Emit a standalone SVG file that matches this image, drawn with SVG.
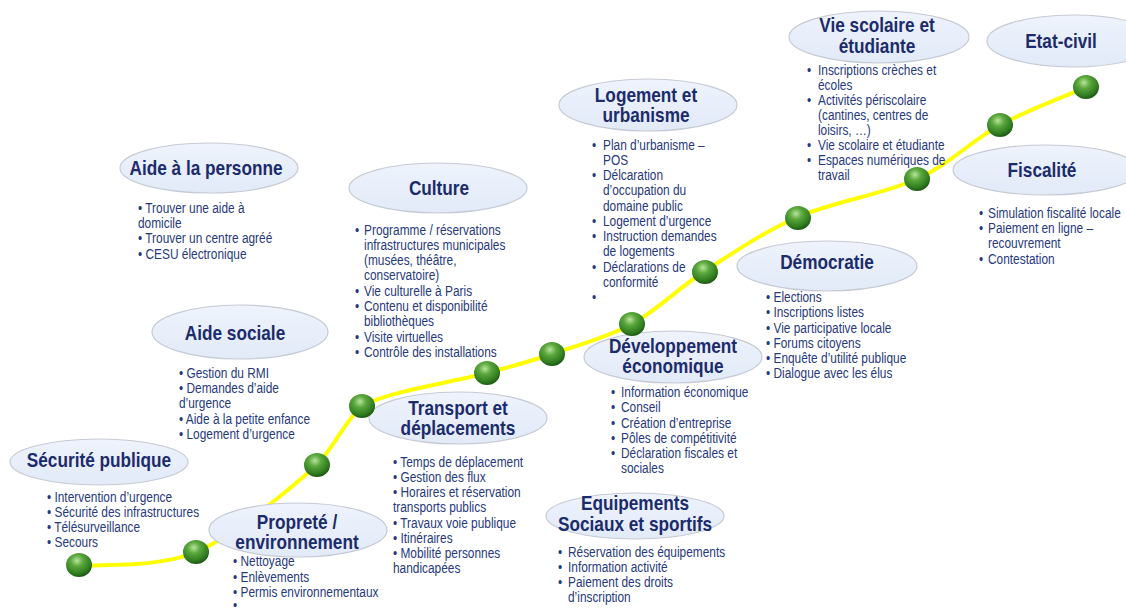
<svg xmlns="http://www.w3.org/2000/svg" width="1126" height="608" viewBox="0 0 1126 608">
  <defs>
    <linearGradient id="bubbleFill" x1="0" y1="0" x2="0" y2="1">
      <stop offset="0" stop-color="#eef3fc"/>
      <stop offset="1" stop-color="#e2eaf8"/>
    </linearGradient>
    <radialGradient id="ballFill" cx="0.42" cy="0.32" r="0.68">
      <stop offset="0" stop-color="#b9e49d"/>
      <stop offset="0.35" stop-color="#5ba83d"/>
      <stop offset="0.8" stop-color="#2f7b1f"/>
      <stop offset="1" stop-color="#1d5913"/>
    </radialGradient>
    <style>
      .bubble { fill: url(#bubbleFill); stroke: #c6cad4; stroke-width: 1.2; }
      .title { font-family: "Liberation Sans Narrow", "Liberation Sans", Arial, sans-serif; font-weight: bold; font-size: 21px; fill: #1b2b6b; text-anchor: middle; }
      .items { font-family: "Liberation Sans Narrow", "Liberation Sans", Arial, sans-serif; font-size: 14.5px; fill: #27397c; }
      .track { fill: none; stroke: #ffff00; stroke-width: 4; stroke-linecap: round; }
      .ball { fill: url(#ballFill); }
    </style>
  </defs>

  <rect width="1126" height="608" fill="#ffffff"/>

  <!-- yellow track linking the themes -->
  <g id="connectors">
    <path class="track" d="M79,566 C98.5,563.7 156.3,568.8 196,552 C235.7,535.2 289.3,489.3 317,465 C335,445 346,420 362,406 C390.3,390.7 455.3,381.7 487,373 C518.7,364.3 527.8,362.2 552,354 C576.2,345.8 606.5,337.8 632,324 C657.5,310.2 677.3,288.8 705,271 C732.7,253.2 762.7,232.3 798,217 C833.3,201.7 883.3,194.3 917,179 C950.7,163.7 971.7,140.3 1000,125 C1028.3,109.7 1072.5,93.3 1087,87"/>
  </g>

  <!-- text is drawn narrow: each block is squeezed horizontally around its anchor -->
  <g id="securite-publique">
    <ellipse class="bubble" cx="99" cy="462" rx="89" ry="23"/>
    <text class="title" transform="translate(99,467) scale(0.82,1)">Sécurité publique</text>
    <text class="items" transform="translate(47,0) scale(0.82,1)">
      <tspan x="0" y="502">• Intervention d’urgence</tspan>
      <tspan x="0" y="517">• Sécurité des infrastructures</tspan>
      <tspan x="0" y="532">• Télésurveillance</tspan>
      <tspan x="0" y="547">• Secours</tspan>
    </text>
  </g>

  <g id="proprete-environnement">
    <ellipse class="bubble" cx="298" cy="530" rx="89" ry="27"/>
    <text class="title" transform="translate(297,0) scale(0.82,1)"><tspan x="0" y="529">Propreté /</tspan><tspan x="0" y="549">environnement</tspan></text>
    <text class="items" transform="translate(233,0) scale(0.82,1)">
      <tspan x="0" y="566">• Nettoyage</tspan>
      <tspan x="0" y="582">• Enlèvements</tspan>
      <tspan x="0" y="597">• Permis environnementaux</tspan>
      <tspan x="0" y="610">•</tspan>
    </text>
  </g>

  <g id="aide-personne">
    <ellipse class="bubble" cx="209" cy="168" rx="89" ry="25"/>
    <text class="title" transform="translate(206,175) scale(0.82,1)">Aide à la personne</text>
    <text class="items" transform="translate(138,0) scale(0.82,1)">
      <tspan x="0" y="213">• Trouver une aide à</tspan>
      <tspan x="0" y="228">domicile</tspan>
      <tspan x="0" y="243">• Trouver un centre agréé</tspan>
      <tspan x="0" y="259">• CESU électronique</tspan>
    </text>
  </g>

  <g id="aide-sociale">
    <ellipse class="bubble" cx="240" cy="332" rx="88" ry="27"/>
    <text class="title" transform="translate(235,340) scale(0.82,1)">Aide sociale</text>
    <text class="items" transform="translate(179,0) scale(0.82,1)">
      <tspan x="0" y="378">• Gestion du RMI</tspan>
      <tspan x="0" y="393">• Demandes d’aide</tspan>
      <tspan x="0" y="408">d’urgence</tspan>
      <tspan x="0" y="424">• Aide à la petite enfance</tspan>
      <tspan x="0" y="439">• Logement d’urgence</tspan>
    </text>
  </g>

  <g id="culture">
    <ellipse class="bubble" cx="438" cy="188" rx="89" ry="25"/>
    <text class="title" transform="translate(439,195) scale(0.82,1)">Culture</text>
    <text class="items" transform="translate(355,0) scale(0.82,1)">
      <tspan x="0" y="235">•</tspan><tspan x="11" y="235">Programme / réservations</tspan>
      <tspan x="11" y="250">infrastructures municipales</tspan>
      <tspan x="11" y="265">(musées, théâtre,</tspan>
      <tspan x="11" y="280">conservatoire)</tspan>
      <tspan x="0" y="296">•</tspan><tspan x="11" y="296">Vie culturelle à Paris</tspan>
      <tspan x="0" y="311">•</tspan><tspan x="11" y="311">Contenu et disponibilité</tspan>
      <tspan x="11" y="326">bibliothèques</tspan>
      <tspan x="0" y="342">•</tspan><tspan x="11" y="342">Visite virtuelles</tspan>
      <tspan x="0" y="357">•</tspan><tspan x="11" y="357">Contrôle des installations</tspan>
    </text>
  </g>

  <g id="transport-deplacements">
    <ellipse class="bubble" cx="458" cy="418" rx="89" ry="26"/>
    <text class="title" transform="translate(458,0) scale(0.82,1)"><tspan x="0" y="415">Transport et</tspan><tspan x="0" y="435">déplacements</tspan></text>
    <text class="items" transform="translate(393,0) scale(0.82,1)">
      <tspan x="0" y="467">• Temps de déplacement</tspan>
      <tspan x="0" y="482">• Gestion des flux</tspan>
      <tspan x="0" y="497">• Horaires et réservation</tspan>
      <tspan x="0" y="512">transports publics</tspan>
      <tspan x="0" y="528">• Travaux voie publique</tspan>
      <tspan x="0" y="543">• Itinéraires</tspan>
      <tspan x="0" y="558">• Mobilité personnes</tspan>
      <tspan x="0" y="573">handicapées</tspan>
    </text>
  </g>

  <g id="equipements-sociaux-sportifs">
    <ellipse class="bubble" cx="635" cy="516" rx="89" ry="23"/>
    <text class="title" transform="translate(635,0) scale(0.82,1)"><tspan x="0" y="510">Equipements</tspan><tspan x="0" y="531">Sociaux et sportifs</tspan></text>
    <text class="items" transform="translate(558,0) scale(0.82,1)">
      <tspan x="0" y="557">•</tspan><tspan x="12.2" y="557">Réservation des équipements</tspan>
      <tspan x="0" y="572">•</tspan><tspan x="12.2" y="572">Information activité</tspan>
      <tspan x="0" y="587">•</tspan><tspan x="12.2" y="587">Paiement des droits</tspan>
      <tspan x="12.2" y="602">d’inscription</tspan>
    </text>
  </g>

  <g id="logement-urbanisme">
    <ellipse class="bubble" cx="648" cy="105" rx="89" ry="26"/>
    <text class="title" transform="translate(646,0) scale(0.82,1)"><tspan x="0" y="102">Logement et</tspan><tspan x="0" y="122">urbanisme</tspan></text>
    <text class="items" transform="translate(592,0) scale(0.82,1)">
      <tspan x="0" y="150">•</tspan><tspan x="13.4" y="150">Plan d’urbanisme –</tspan>
      <tspan x="13.4" y="165">POS</tspan>
      <tspan x="0" y="180">•</tspan><tspan x="13.4" y="180">Délcaration</tspan>
      <tspan x="13.4" y="195">d’occupation du</tspan>
      <tspan x="13.4" y="211">domaine public</tspan>
      <tspan x="0" y="226">•</tspan><tspan x="13.4" y="226">Logement d’urgence</tspan>
      <tspan x="0" y="241">•</tspan><tspan x="13.4" y="241">Instruction demandes</tspan>
      <tspan x="13.4" y="256">de logements</tspan>
      <tspan x="0" y="272">•</tspan><tspan x="13.4" y="272">Déclarations de</tspan>
      <tspan x="13.4" y="287">conformité</tspan>
      <tspan x="0" y="302">•</tspan>
    </text>
  </g>

  <g id="developpement-economique">
    <ellipse class="bubble" cx="673" cy="357" rx="89" ry="26"/>
    <text class="title" transform="translate(673,0) scale(0.82,1)"><tspan x="0" y="353">Développement</tspan><tspan x="0" y="373">économique</tspan></text>
    <text class="items" transform="translate(611,0) scale(0.82,1)">
      <tspan x="0" y="397">•</tspan><tspan x="12.2" y="397">Information économique</tspan>
      <tspan x="0" y="412">•</tspan><tspan x="12.2" y="412">Conseil</tspan>
      <tspan x="0" y="428">•</tspan><tspan x="12.2" y="428">Création d’entreprise</tspan>
      <tspan x="0" y="443">•</tspan><tspan x="12.2" y="443">Pôles de compétitivité</tspan>
      <tspan x="0" y="458">•</tspan><tspan x="12.2" y="458">Déclaration fiscales et</tspan>
      <tspan x="12.2" y="473">sociales</tspan>
    </text>
  </g>

  <g id="democratie">
    <ellipse class="bubble" cx="827" cy="266" rx="90" ry="25"/>
    <text class="title" transform="translate(827,269) scale(0.82,1)">Démocratie</text>
    <text class="items" transform="translate(766,0) scale(0.82,1)">
      <tspan x="0" y="302">• Elections</tspan>
      <tspan x="0" y="317">• Inscriptions listes</tspan>
      <tspan x="0" y="333">• Vie participative locale</tspan>
      <tspan x="0" y="348">• Forums citoyens</tspan>
      <tspan x="0" y="363">• Enquête d’utilité publique</tspan>
      <tspan x="0" y="378">• Dialogue avec les élus</tspan>
    </text>
  </g>

  <g id="vie-scolaire-etudiante">
    <ellipse class="bubble" cx="879" cy="37" rx="90" ry="26"/>
    <text class="title" transform="translate(877,0) scale(0.82,1)"><tspan x="0" y="32">Vie scolaire et</tspan><tspan x="0" y="53">étudiante</tspan></text>
    <text class="items" transform="translate(807,0) scale(0.82,1)">
      <tspan x="0" y="75">•</tspan><tspan x="13.4" y="75">Inscriptions crèches et</tspan>
      <tspan x="13.4" y="90">écoles</tspan>
      <tspan x="0" y="105">•</tspan><tspan x="13.4" y="105">Activités périscolaire</tspan>
      <tspan x="13.4" y="120">(cantines, centres de</tspan>
      <tspan x="13.4" y="135">loisirs, …)</tspan>
      <tspan x="0" y="150">•</tspan><tspan x="13.4" y="150">Vie scolaire et étudiante</tspan>
      <tspan x="0" y="165">•</tspan><tspan x="13.4" y="165">Espaces numériques de</tspan>
      <tspan x="13.4" y="180">travail</tspan>
    </text>
  </g>

  <g id="etat-civil">
    <ellipse class="bubble" cx="1073" cy="41" rx="86" ry="26"/>
    <text class="title" transform="translate(1061,48) scale(0.82,1)">Etat-civil</text>
  </g>

  <g id="fiscalite">
    <ellipse class="bubble" cx="1046" cy="170" rx="93" ry="25"/>
    <text class="title" transform="translate(1042,177) scale(0.82,1)">Fiscalité</text>
    <text class="items" transform="translate(979,0) scale(0.82,1)">
      <tspan x="0" y="218">•</tspan><tspan x="11" y="218">Simulation fiscalité locale</tspan>
      <tspan x="0" y="233">•</tspan><tspan x="11" y="233">Paiement en ligne –</tspan>
      <tspan x="11" y="248">recouvrement</tspan>
      <tspan x="0" y="264">•</tspan><tspan x="11" y="264">Contestation</tspan>
    </text>
  </g>

  <!-- green beads sitting on the track -->
  <g id="beads">
    <ellipse class="ball" cx="79" cy="565" rx="13" ry="12"/>
    <ellipse class="ball" cx="196" cy="552" rx="13" ry="12"/>
    <ellipse class="ball" cx="317" cy="465" rx="13" ry="12"/>
    <ellipse class="ball" cx="362" cy="406" rx="13" ry="12"/>
    <ellipse class="ball" cx="487" cy="373" rx="13" ry="12"/>
    <ellipse class="ball" cx="552" cy="354" rx="13" ry="12"/>
    <ellipse class="ball" cx="632" cy="324" rx="13" ry="12"/>
    <ellipse class="ball" cx="705" cy="272" rx="13" ry="12"/>
    <ellipse class="ball" cx="798" cy="218" rx="13" ry="12"/>
    <ellipse class="ball" cx="917" cy="179" rx="13" ry="12"/>
    <ellipse class="ball" cx="1000" cy="125" rx="13" ry="12"/>
    <ellipse class="ball" cx="1086" cy="87" rx="13" ry="12"/>
  </g>
</svg>
